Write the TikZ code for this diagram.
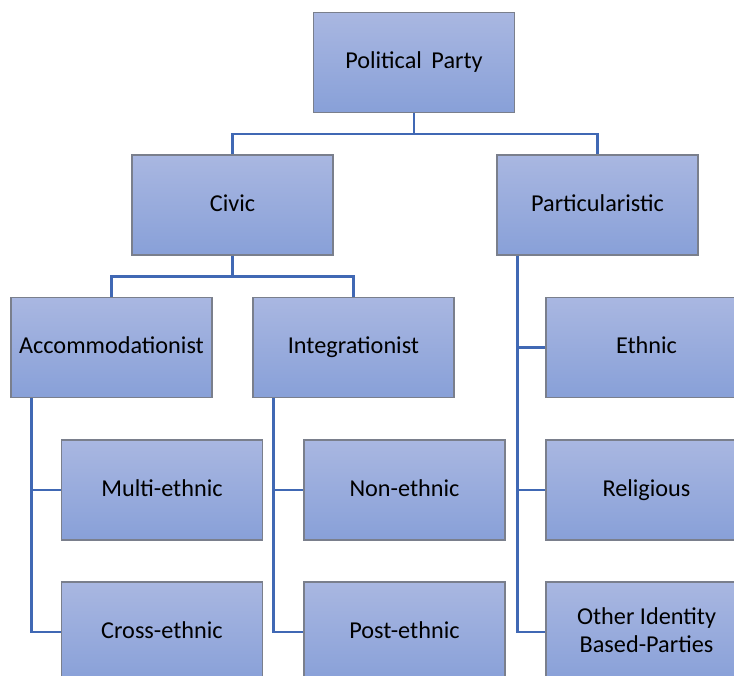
\documentclass[tikz,border=0pt]{standalone}
\usepackage{fontspec}
\setmainfont{Carlito}
\definecolor{boxtop}{HTML}{A9B7E1}
\definecolor{boxbottom}{HTML}{88A0D8}
\definecolor{boxline}{HTML}{7A7F8C}
\definecolor{linkblue}{HTML}{4068B4}
\tikzset{box/.style={draw=boxline, line width=0.6pt, top color=boxtop, bottom color=boxbottom,
    minimum width=4.02cm, minimum height=2cm, align=center, text depth=0.25em,
    font=\fontsize{13.8}{16}\selectfont}}
\tikzset{link/.style={line width=1.5pt, color=linkblue}}

\begin{document}
\begin{tikzpicture}
        \useasboundingbox (0,0) rectangle (14.68,-13.52);

        \node[box] (party) at (8.28, -1.25) {Political\, Party};
        \node[box] (civic) at (4.65, -4.1) {Civic};
        \node[box] (partic) at (11.95, -4.1) {Particularistic};

        \node[box] (accom) at (2.23, -6.95) {Accommodationist};
        \node[box] (integ) at (7.07, -6.95) {Integrationist};
        \node[box] (multi) at (3.24, -9.8) {Multi-ethnic};
        \node[box] (nonethnic) at (8.09, -9.8) {Non-ethnic};
        \node[box] (cross) at (3.24, -12.64) {Cross-ethnic};
        \node[box] (post) at (8.09, -12.64) {Post-ethnic};

        \node[box] (ethnic) at (12.93, -6.95) {Ethnic};
        \node[box] (religious) at (12.93, -9.8) {Religious};
        \node[box] (other) at (12.93, -12.64) {Other Identity\\Based-Parties};

        \draw [link] (party.south) -- ++(0,-0.42) -| (civic.north);
        \draw [link] (party.south) -- ++(0,-0.42) -| (partic.north);
        \draw [link] (civic.south) -- ++(0,-0.42) -| (accom.north);
        \draw [link] (civic.south) -- ++(0,-0.42) -| (integ.north);

        \draw [link] ([xshift=0.42cm]accom.south west) |- (multi.west);
        \draw [link] ([xshift=0.42cm]accom.south west) |- (cross.west);
        \draw [link] ([xshift=0.42cm]integ.south west) |- (nonethnic.west);
        \draw [link] ([xshift=0.42cm]integ.south west) |- (post.west);
        \draw [link] ([xshift=0.42cm]partic.south west) |- (ethnic.west);
        \draw [link] ([xshift=0.42cm]partic.south west) |- (religious.west);
        \draw [link] ([xshift=0.42cm]partic.south west) |- (other.west);
    \end{tikzpicture}
\end{document}
